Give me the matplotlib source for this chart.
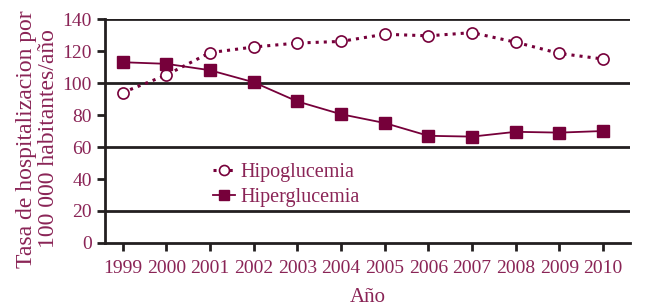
import matplotlib.pyplot as plt

years = list(range(1999, 2011))
hipoglucemia = [94, 105, 119, 122.5, 125, 126, 130.5, 129.5, 131.5, 125.5, 118.5, 115]
hiperglucemia = [113, 112, 108, 100.5, 88.5, 80.5, 75, 67, 66.5, 69.5, 69, 70]
yticks = [0, 20, 40, 60, 80, 100, 120, 140]
grid_levels = [20, 60, 100, 140]

maroon = '#76003a'
text_col = '#8a2456'

plt.rcParams['font.family'] = ['Liberation Serif', 'DejaVu Serif']

fig = plt.figure(figsize=(6.49, 3.07), dpi=100)
ax = fig.add_axes([0.162, 0.2085, 0.809, 0.7295])

for g in grid_levels:
    ax.axhline(g, color='#231f20', linewidth=2, zorder=1)

ax.plot(years, hipoglucemia, linestyle=':', color=maroon, linewidth=2.2,
        marker='o', markersize=8, markerfacecolor='white',
        markeredgecolor=maroon, markeredgewidth=1.2, label='Hipoglucemia', zorder=3)
ax.plot(years, hiperglucemia, linestyle='-', color=maroon, linewidth=1.3,
        marker='s', markersize=8.5, markerfacecolor=maroon,
        markeredgecolor=maroon, label='Hiperglucemia', zorder=3)

ax.set_xlim(1998.6, 2010.62)
ax.set_ylim(0, 140)
ax.set_xticks(years)
ax.set_yticks(yticks)
ax.tick_params(axis='both', colors='#231f20', labelcolor=text_col,
               labelsize=14, width=2, length=6)
ax.tick_params(axis='x', pad=6)

for side in ['top', 'right']:
    ax.spines[side].set_visible(False)
for side in ['left', 'bottom']:
    ax.spines[side].set_linewidth(2)
    ax.spines[side].set_color('#231f20')

ax.set_xlabel('Año', color=text_col, fontsize=15, labelpad=8)
ax.set_ylabel('Tasa de hospitalizacion por\n100 000 habitantes/año',
              color=text_col, fontsize=17, linespacing=1.05, labelpad=2)
ax.yaxis.set_label_coords(-0.088, 0.465)

leg = ax.legend(loc='upper left', bbox_to_anchor=(0.17, 0.44), frameon=False,
                fontsize=14.5, handlelength=1.1, handletextpad=0.3,
                labelspacing=0.3, labelcolor=text_col, markerscale=0.9)

fig.savefig('out.png', dpi=100)
